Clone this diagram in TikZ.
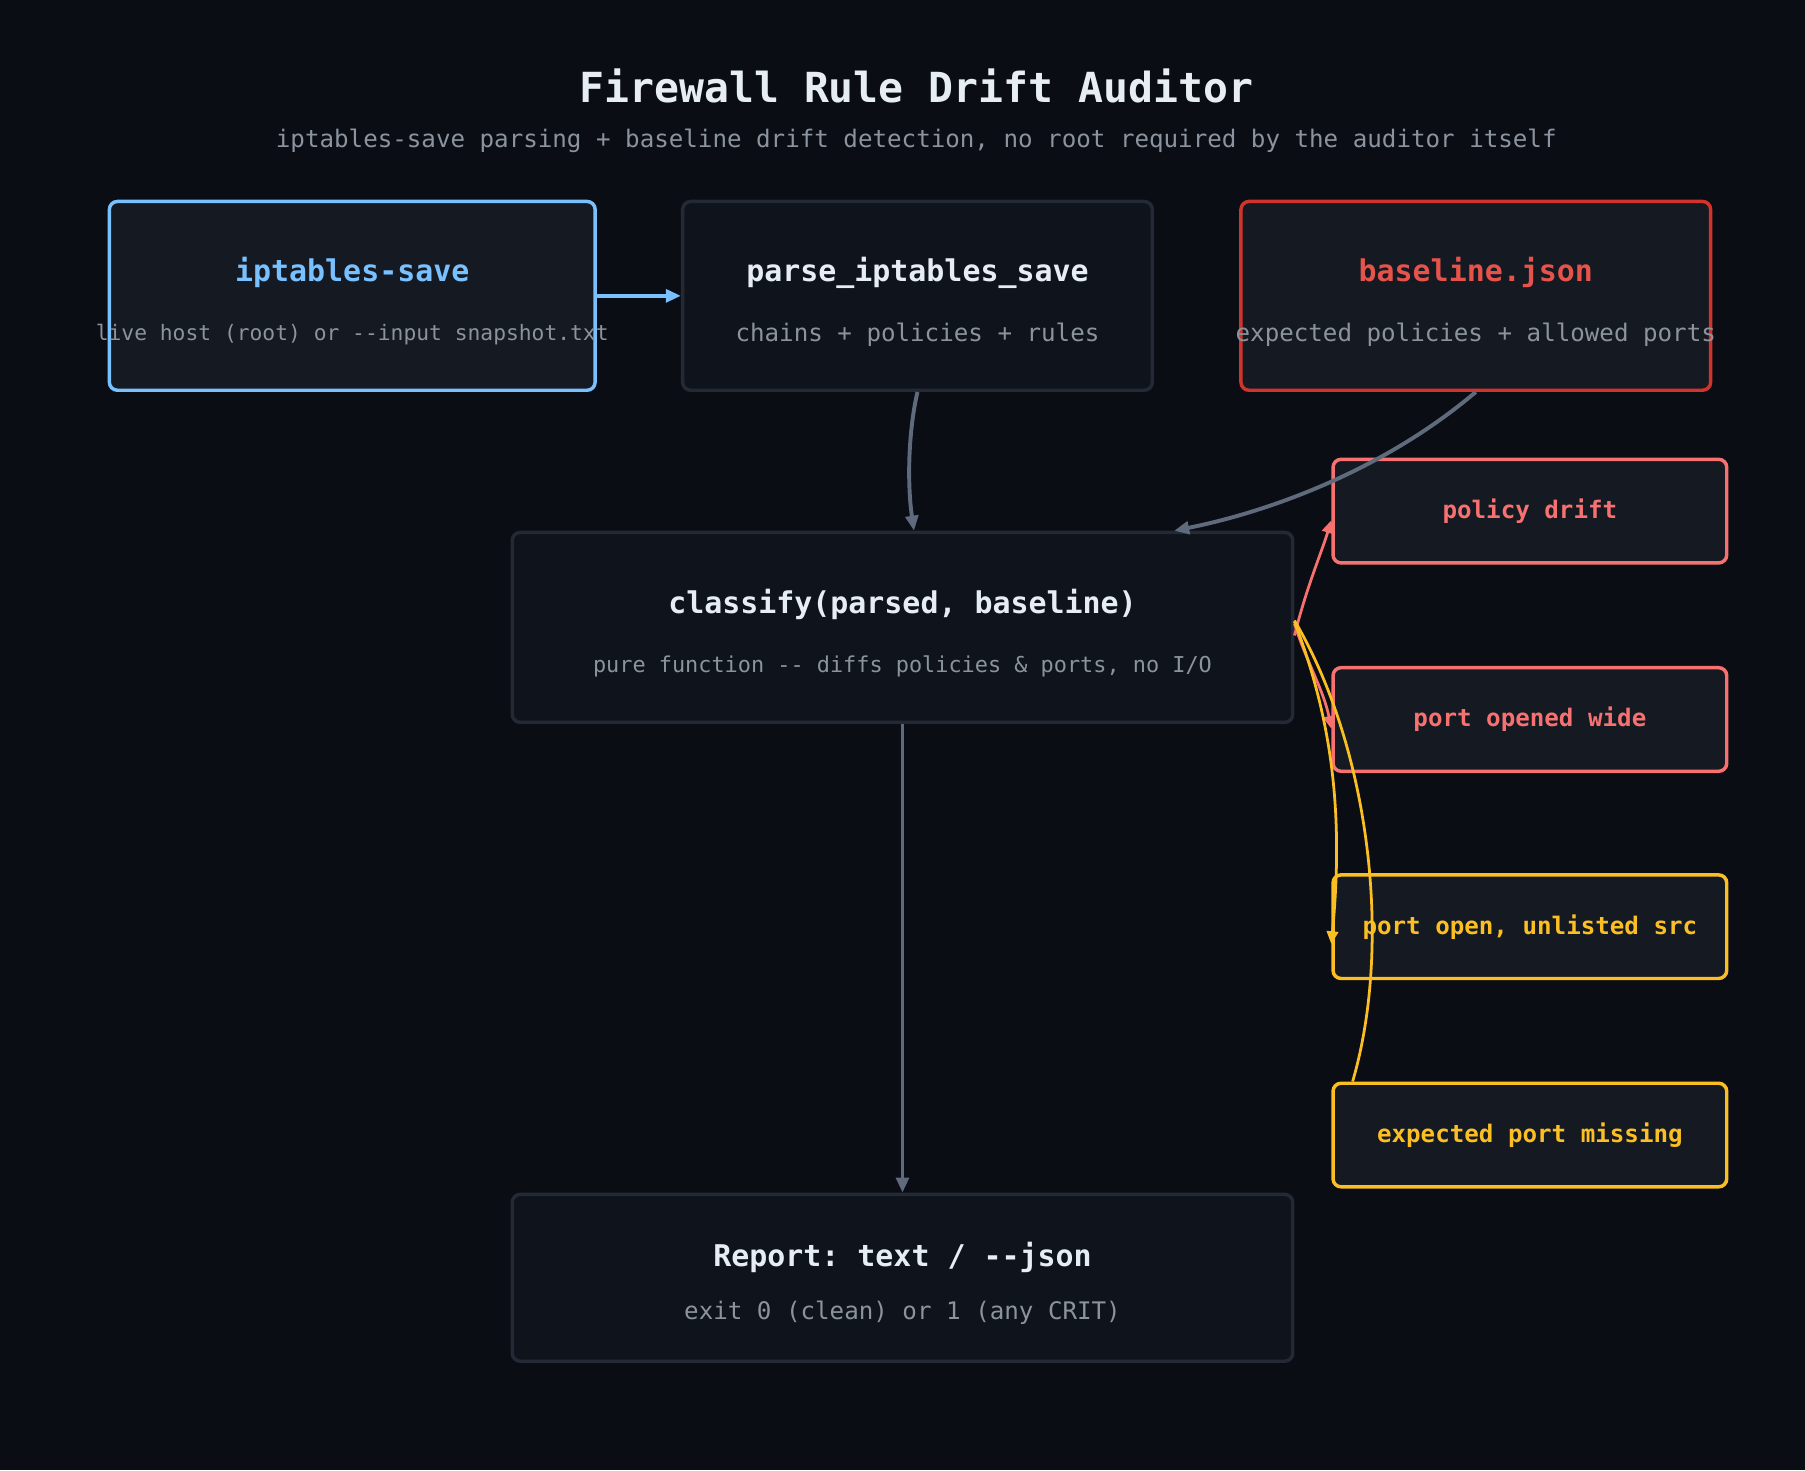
\documentclass[tikz,border=0pt]{standalone}
\usepackage{fontspec}
\setmonofont{DejaVu Sans Mono}
\usetikzlibrary{arrows.meta}
\definecolor{bg}{HTML}{0A0D14}
\definecolor{fillA}{HTML}{141922}
\definecolor{fillB}{HTML}{0F131B}
\definecolor{gborder}{HTML}{232A35}
\definecolor{blueC}{HTML}{79C0FF}
\definecolor{redC}{HTML}{D0342C}
\definecolor{redT}{HTML}{E5534B}
\definecolor{salmon}{HTML}{F87171}
\definecolor{yel}{HTML}{FBBF24}
\definecolor{txt}{HTML}{E6EDF3}
\definecolor{sub}{HTML}{8B949E}
\definecolor{edge}{HTML}{5F6B7D}
\begin{document}
\begin{tikzpicture}[x=1pt,y=-1pt,font=\ttfamily,
 box/.style={draw,rounded corners=7pt,line width=3pt,inner sep=0},
 ttl/.style={font=\ttfamily\bfseries\fontsize{26}{30}\selectfont},
 st/.style={text=sub,font=\ttfamily\fontsize{19}{22}\selectfont},
 sm/.style={font=\ttfamily\bfseries\fontsize{21}{24}\selectfont},
 ar/.style={-{Triangle[length=13pt,width=11pt]},line width=3.4pt,edge},
 sa/.style={-{Triangle[length=11pt,width=10pt]},line width=2.4pt}]
\fill[bg] (0,0) rectangle (1568,1277);
\node[text=txt,font=\ttfamily\bfseries\fontsize{36}{40}\selectfont] (t) at (796,75) {Firewall Rule Drift Auditor};
\node[text=sub,font=\ttfamily\fontsize{21}{24}\selectfont] (s) at (796,122) {iptables-save parsing + baseline drift detection, no root required by the auditor itself};
% boxes
\node[box,draw=blueC,fill=fillA,minimum width=422pt,minimum height=164pt] (ip) at (306,257) {};
\node[ttl,text=blueC] (ipt) at (306,237) {iptables-save};
\node[st,font=\ttfamily\fontsize{18.5}{21}\selectfont] (ips) at (306,291) {live host (root) or --input snapshot.txt};
\node[box,draw=gborder,fill=fillB,minimum width=408pt,minimum height=164pt] (pa) at (797,257) {};
\node[ttl,text=txt] (pat) at (797,237) {parse\_iptables\_save};
\node[st,font=\ttfamily\fontsize{21}{24}\selectfont] (pas) at (797,291) {chains + policies + rules};
\node[box,draw=redC,fill=fillA,minimum width=408pt,minimum height=164pt] (bl) at (1282,257) {};
\node[ttl,text=redT] (blt) at (1282,237) {baseline.json};
\node[st,font=\ttfamily\fontsize{21}{24}\selectfont] (bls) at (1282,291) {expected policies + allowed ports};
\node[box,draw=gborder,fill=fillB,minimum width=678pt,minimum height=165pt] (cl) at (784,545) {};
\node[ttl,text=txt] (clt) at (784,525) {classify(parsed, baseline)};
\node[st] (cls) at (784,579) {pure function -- diffs policies \& ports, no I/O};
\node[box,draw=gborder,fill=fillB,minimum width=678pt,minimum height=145pt] (rp) at (784,1110) {};
\node[ttl,text=txt] (rpt) at (784,1092) {Report: text / --json};
\node[st,font=\ttfamily\fontsize{21}{24}\selectfont] (rps) at (784,1140) {exit 0 (clean) or 1 (any CRIT)};
\node[box,draw=salmon,fill=fillA,minimum width=342pt,minimum height=90pt] (pd) at (1329,444) {};
\node[sm,text=salmon] (pdt) at (1329,444) {policy drift};
\node[box,draw=salmon,fill=fillA,minimum width=342pt,minimum height=90pt] (pw) at (1329,625) {};
\node[sm,text=salmon] (pwt) at (1329,625) {port opened wide};
\node[box,draw=yel,fill=fillA,minimum width=342pt,minimum height=90pt] (pu) at (1329,805) {};
\node[sm,text=yel] (put) at (1329,805) {port open, unlisted src};
\node[box,draw=yel,fill=fillA,minimum width=342pt,minimum height=90pt] (pm) at (1329,986) {};
\node[sm,text=yel] (pmt) at (1329,986) {expected port missing};
% edges
\draw[ar,blueC] (ip.east) -- (pa.west);
\draw[ar] (pa.south) .. controls (789,375) and (788,420) .. ([xshift=10pt]cl.north);
\draw[ar] (bl.south) .. controls (1200,410) and (1100,445) .. ([xshift=236pt]cl.north);
\draw[ar] (cl.south) -- (rp.north);
\draw[sa,salmon] ([yshift=-7pt]cl.east) .. controls (1135,510) and (1148,480) .. ([yshift=-8pt]pd.west);
\draw[sa,salmon] ([yshift=3pt]cl.east) .. controls (1135,575) and (1150,600) .. ([yshift=-8pt]pw.west);
\draw[sa,yel] ([yshift=5pt]cl.east) .. controls (1155,620) and (1168,700) .. ([yshift=-15pt]pu.west);
\draw[line width=2.4pt,yel] ([yshift=6pt]cl.east) .. controls (1190,650) and (1210,820) .. ([xshift=-154pt]pm.north);
\end{tikzpicture}
\end{document}
